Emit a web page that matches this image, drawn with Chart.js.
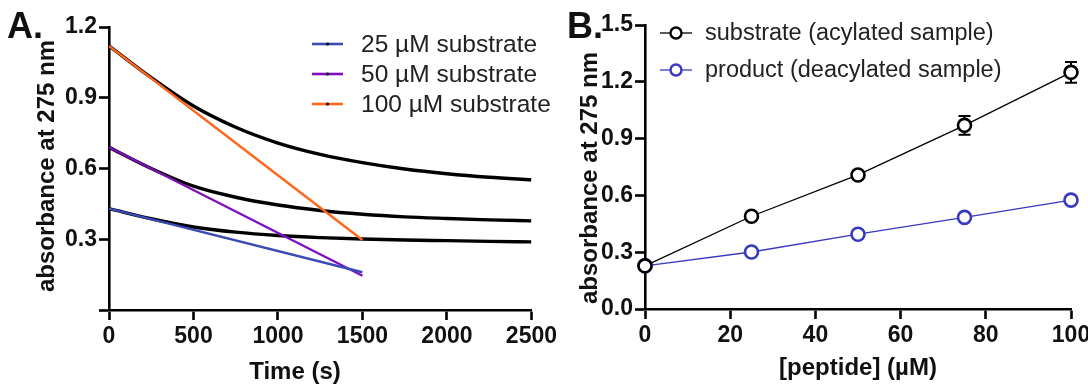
<!DOCTYPE html>
<html>
<head>
<meta charset="utf-8">
<script src="https://cdn.jsdelivr.net/npm/chart.js@4.4.1/dist/chart.umd.min.js"></script>
<style>
  html, body { margin: 0; padding: 0; background: #fff; width: 1088px; height: 384px; overflow: hidden; }
  #wrap { position: relative; width: 1088px; height: 384px; overflow: hidden; }
  #cA { position: absolute; left: 0; top: 0; }
  #cB { position: absolute; left: 548px; top: 0; }
</style>
</head>
<body>
<div id="wrap">
  <canvas id="cA" width="560" height="384"></canvas>
  <canvas id="cB" width="560" height="384"></canvas>
</div>
<script>
// ---- Panel A: absorbance at 275 nm over time ----
const timeS = [0, 250, 500, 750, 1000, 1250, 1500, 1750, 2000, 2250, 2500];
const trace100 = [1.12, 0.985, 0.865, 0.775, 0.708, 0.66, 0.625, 0.598, 0.578, 0.563, 0.552];
const trace50  = [0.69, 0.60, 0.525, 0.478, 0.445, 0.422, 0.406, 0.395, 0.388, 0.382, 0.378];
const trace25  = [0.43, 0.387, 0.352, 0.330, 0.316, 0.307, 0.301, 0.297, 0.294, 0.291, 0.289];
const slopeTime = [0, 1500];
const slope25  = [0.43, 0.16];
const slope50  = [0.69, 0.145];
const slope100 = [1.12, 0.297];
const slopeLabels = ['25 \u00B5M substrate', '50 \u00B5M substrate', '100 \u00B5M substrate'];
const timeTicks = [0, 500, 1000, 1500, 2000, 2500];

// ---- Panel B: absorbance vs peptide concentration ----
const peptideUM = [0, 25, 50, 75, 100];
const substrateAbs = [0.228, 0.49, 0.708, 0.97, 1.25];
const substrateErr = [0.01, 0.012, 0.012, 0.05, 0.055];
const productAbs = [0.228, 0.301, 0.395, 0.484, 0.575];
const productErr = [0.005, 0.008, 0.008, 0.008, 0.01];
const seriesLabels = ['substrate (acylated sample)', 'product (deacylated sample)'];

const FONT = "'Liberation Sans', Arial, sans-serif";
const BLUE = 'rgb(58,74,182)';
const PURPLE = 'rgb(128,14,190)';
const ORANGE = 'rgb(255,102,26)';
const BBLUE = 'rgb(56,56,192)';
const TICK_PX = 23;
const TITLE_PX = 24;

function pts(xs, ys) { return xs.map((x, i) => ({ x: x, y: ys[i] })); }

// panel letters and free-standing axis captions
const captions = {
  id: 'captions',
  afterDraw(chart, args, opts) {
    const ctx = chart.ctx;
    (opts.items || []).forEach(it => {
      ctx.save();
      ctx.font = it.font;
      ctx.fillStyle = '#111';
      ctx.textBaseline = it.baseline || 'alphabetic';
      ctx.textAlign = it.align || 'left';
      ctx.translate(it.x, it.y);
      if (it.vertical) ctx.rotate(-Math.PI / 2);
      ctx.fillText(it.text, 0, 0);
      ctx.restore();
    });
  }
};

// legend drawn inside the plot, one row per labelled dataset
const inlineLegend = {
  id: 'inlineLegend',
  afterDraw(chart, args, opts) {
    const ctx = chart.ctx;
    const items = chart.data.datasets.filter(d => d.legendRow !== undefined);
    ctx.save();
    items.forEach(d => {
      const y = opts.rows[d.legendRow];
      ctx.strokeStyle = d.borderColor;
      ctx.lineWidth = opts.lineWidth;
      ctx.beginPath();
      ctx.moveTo(opts.x0, y);
      ctx.lineTo(opts.x1, y);
      ctx.stroke();
      const cx = (opts.x0 + opts.x1) / 2;
      if (opts.marker === 'circle') {
        ctx.fillStyle = '#fff';
        ctx.lineWidth = 2.4;
        ctx.strokeStyle = d.pointBorderColor;
        ctx.beginPath();
        ctx.arc(cx, y, 5.5, 0, Math.PI * 2);
        ctx.fill();
        ctx.stroke();
      } else {
        ctx.fillStyle = '#000';
        ctx.beginPath();
        ctx.arc(cx, y, 1.6, 0, Math.PI * 2);
        ctx.fill();
      }
      ctx.fillStyle = '#222';
      ctx.font = opts.fontSize + 'px ' + FONT;
      ctx.textBaseline = 'middle';
      ctx.textAlign = 'left';
      ctx.fillText(d.label, opts.tx, y + 1);
    });
    ctx.restore();
  }
};

// vertical error bars with caps, drawn beneath the markers
const errorBars = {
  id: 'errorBars',
  beforeDatasetsDraw(chart) {
    const ctx = chart.ctx;
    const xs = chart.scales.x, ys = chart.scales.y;
    ctx.save();
    chart.data.datasets.forEach(d => {
      if (!d.errors) return;
      ctx.strokeStyle = d.pointBorderColor;
      ctx.lineWidth = 2;
      d.data.forEach((p, i) => {
        const e = d.errors[i];
        const px = xs.getPixelForValue(p.x);
        const yt = ys.getPixelForValue(p.y + e);
        const yb = ys.getPixelForValue(p.y - e);
        ctx.beginPath();
        ctx.moveTo(px, yt); ctx.lineTo(px, yb);
        ctx.moveTo(px - 6, yt); ctx.lineTo(px + 6, yt);
        ctx.moveTo(px - 6, yb); ctx.lineTo(px + 6, yb);
        ctx.stroke();
      });
    });
    ctx.restore();
  }
};

function axisCommon(extra) {
  return Object.assign({
    type: 'linear',
    border: { display: true, color: '#000', width: 2.6 },
    grid: { display: true, drawOnChartArea: false, drawTicks: true, tickLength: 10, tickWidth: 2.6, tickColor: '#000' },
  }, extra);
}

Chart.defaults.font.family = FONT;
Chart.defaults.color = '#111';

const titleFont = 'bold ' + TITLE_PX + 'px ' + FONT;

// ---------- Chart A ----------
new Chart(document.getElementById('cA'), {
  type: 'scatter',
  data: {
    datasets: [
      { label: slopeLabels[0], legendRow: 0, data: pts(slopeTime, slope25), showLine: true, borderColor: BLUE, borderWidth: 2.4, pointRadius: 0 },
      { label: slopeLabels[1], legendRow: 1, data: pts(slopeTime, slope50), showLine: true, borderColor: PURPLE, borderWidth: 2.4, pointRadius: 0 },
      { label: slopeLabels[2], legendRow: 2, data: pts(slopeTime, slope100), showLine: true, borderColor: ORANGE, borderWidth: 2.4, pointRadius: 0 },
      { data: pts(timeS, trace25), showLine: true, borderColor: '#000', borderWidth: 3.4, pointRadius: 0, cubicInterpolationMode: 'monotone' },
      { data: pts(timeS, trace50), showLine: true, borderColor: '#000', borderWidth: 3.4, pointRadius: 0, cubicInterpolationMode: 'monotone' },
      { data: pts(timeS, trace100), showLine: true, borderColor: '#000', borderWidth: 3.4, pointRadius: 0, cubicInterpolationMode: 'monotone' },
    ]
  },
  options: {
    responsive: false,
    animation: false,
    devicePixelRatio: 1,
    layout: { padding: { top: 27, right: 28, bottom: 0, left: 0 } },
    plugins: {
      legend: { display: false },
      tooltip: { enabled: false },
      captions: { items: [
        { text: 'A.', x: 7, y: 38, font: 'bold 36px ' + FONT },
        { text: 'Time (s)', x: 295, y: 372, font: titleFont, align: 'center', baseline: 'middle' },
        { text: 'absorbance at 275 nm', x: 47, y: 166, font: titleFont, align: 'center', baseline: 'middle', vertical: true },
      ] },
      inlineLegend: { rows: [44, 74, 104], x0: 312, x1: 343, tx: 361, lineWidth: 2.6, fontSize: 24.5, marker: 'dot' },
    },
    scales: {
      x: axisCommon({
        min: 0, max: 2500,
        afterBuildTicks: s => { s.ticks = timeTicks.map(v => ({ value: v })); },
        ticks: { font: { size: TICK_PX, weight: 'bold' }, color: '#111', padding: 3, maxRotation: 0,
                 callback: v => String(v) },
        afterFit: s => { s.height = 74; },
      }),
      y: axisCommon({
        min: 0, max: 1.2,
        ticks: { stepSize: 0.3, font: { size: TICK_PX, weight: 'bold' }, color: '#111', padding: 2,
                 callback: v => (Math.abs(v) < 1e-9 ? '' : v.toFixed(1)) },
        afterFit: s => { s.width = 109; },
      }),
    }
  },
  plugins: [captions, inlineLegend]
});

// ---------- Chart B ----------
new Chart(document.getElementById('cB'), {
  type: 'scatter',
  data: {
    datasets: [
      { label: seriesLabels[0], legendRow: 0, data: pts(peptideUM, substrateAbs), errors: substrateErr, showLine: true,
        borderColor: '#000', borderWidth: 1.3, pointRadius: 6.5, pointBorderWidth: 2.6, pointBackgroundColor: '#fff', pointBorderColor: '#000', clip: false },
      { label: seriesLabels[1], legendRow: 1, data: pts(peptideUM, productAbs), errors: productErr, showLine: true,
        borderColor: BBLUE, borderWidth: 1.3, pointRadius: 6.5, pointBorderWidth: 2.6, pointBackgroundColor: '#fff', pointBorderColor: BBLUE, clip: false },
    ]
  },
  options: {
    responsive: false,
    animation: false,
    devicePixelRatio: 1,
    layout: { padding: { top: 25, right: 37, bottom: 0, left: 0 } },
    plugins: {
      legend: { display: false },
      tooltip: { enabled: false },
      captions: { items: [
        { text: 'B.', x: 19, y: 38, font: 'bold 36px ' + FONT },
        { text: 'absorbance at 275 nm', x: 42, y: 178, font: titleFont, align: 'center', baseline: 'middle', vertical: true },
      ] },
      inlineLegend: { rows: [33, 70], x0: 112, x1: 144, tx: 157, lineWidth: 1.3, fontSize: 23.5, marker: 'circle' },
    },
    scales: {
      x: axisCommon({
        min: 0, max: 100,
        ticks: { stepSize: 20, font: { size: TICK_PX, weight: 'bold' }, color: '#111', padding: 3, maxRotation: 0 },
        title: { display: true, text: '[peptide] (\u00B5M)', font: { size: TITLE_PX, weight: 'bold' }, color: '#111', padding: { top: 0, bottom: 1 } },
        afterFit: s => { s.height = 75; },
      }),
      y: axisCommon({
        min: 0, max: 1.5,
        ticks: { stepSize: 0.3, font: { size: TICK_PX, weight: 'bold' }, color: '#111', padding: 2,
                 callback: v => v.toFixed(1) },
        afterFit: s => { s.width = 97; },
      }),
    }
  },
  plugins: [captions, inlineLegend, errorBars]
});
</script>
</body>
</html>
